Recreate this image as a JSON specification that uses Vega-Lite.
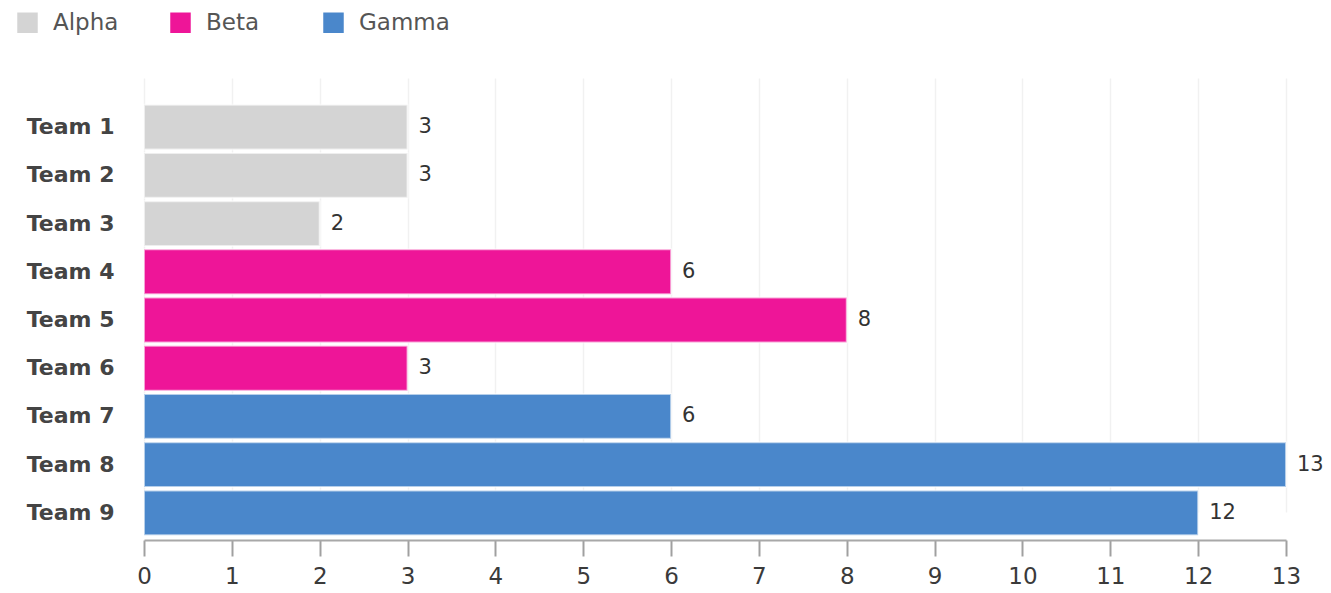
{
  "$schema": "https://vega.github.io/schema/vega-lite/v6.json",
  "width": 1142,
  "height": 465,
  "autosize": {"type": "none"},
  "padding": {"left": 144, "top": 75, "right": 45, "bottom": 53},
  "background": "white",
  "config": {
    "view": {"stroke": null},
    "font": "DejaVu Sans"
  },
  "data": {
    "values": [
      {"team": "Team 1", "group": "Alpha", "score": 3},
      {"team": "Team 2", "group": "Alpha", "score": 3},
      {"team": "Team 3", "group": "Alpha", "score": 2},
      {"team": "Team 4", "group": "Beta", "score": 6},
      {"team": "Team 5", "group": "Beta", "score": 8},
      {"team": "Team 6", "group": "Beta", "score": 3},
      {"team": "Team 7", "group": "Gamma", "score": 6},
      {"team": "Team 8", "group": "Gamma", "score": 13},
      {"team": "Team 9", "group": "Gamma", "score": 12}
    ]
  },
  "encoding": {
    "y": {
      "field": "team",
      "type": "nominal",
      "sort": null,
      "title": null,
      "scale": {"range": [28, 462], "paddingInner": 0.07, "paddingOuter": 0.035},
      "axis": {
        "ticks": false,
        "domain": false,
        "labelFontSize": 22,
        "labelFontWeight": "bold",
        "labelColor": "#444444",
        "labelPadding": 30
      }
    },
    "x": {
      "field": "score",
      "type": "quantitative",
      "title": null,
      "scale": {"domain": [0, 13], "nice": false},
      "axis": {
        "values": [0, 1, 2, 3, 4, 5, 6, 7, 8, 9, 10, 11, 12, 13],
        "labelOverlap": false,
        "labelFlush": false,
        "grid": true,
        "gridColor": "#f1f1f1",
        "gridWidth": 1.5,
        "domainColor": "#a8a8a8",
        "domainWidth": 2,
        "tickColor": "#a0a0a0",
        "tickWidth": 2,
        "tickSize": 16,
        "labelFontSize": 23,
        "labelColor": "#3a3a3a",
        "labelPadding": 9
      }
    }
  },
  "layer": [
    {
      "mark": {"type": "bar", "stroke": "white", "strokeOpacity": 0.6, "strokeWidth": 2},
      "encoding": {
        "color": {
          "field": "group",
          "type": "nominal",
          "title": null,
          "scale": {"domain": ["Alpha", "Beta", "Gamma"], "range": ["#d4d4d4", "#ee1598", "#4a87cb"]},
          "legend": {
            "orient": "none",
            "legendX": -128,
            "legendY": -64,
            "direction": "horizontal",
            "columns": 3,
            "gridAlign": "all",
            "columnPadding": 25,
            "symbolType": "square",
            "symbolSize": 420,
            "symbolStrokeWidth": 0,
            "symbolOpacity": 1,
            "symbolOffset": 0,
            "labelOffset": 14,
            "labelFontSize": 23,
            "labelColor": "#555555"
          }
        }
      }
    },
    {
      "mark": {"type": "text", "align": "left", "baseline": "middle", "dx": 11, "fontSize": 21, "color": "#333333"},
      "encoding": {
        "text": {"field": "score", "type": "quantitative"}
      }
    },
    {
      "mark": {"type": "rule", "color": "#a8a8a8", "strokeWidth": 3},
      "encoding": {
        "x": {"datum": 0}
      }
    }
  ]
}
